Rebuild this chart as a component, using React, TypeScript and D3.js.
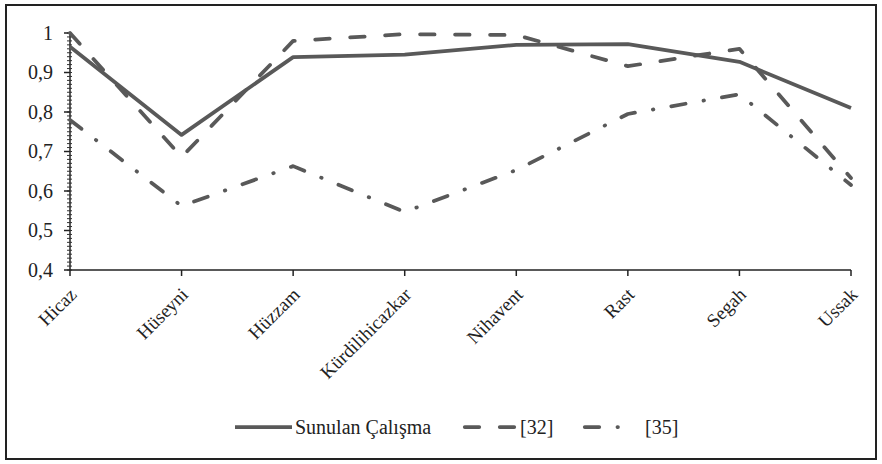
import React, { useEffect } from "react";
import * as d3 from "d3";

const categories = ["Hicaz", "Hüseyni", "Hüzzam", "Kürdilihicazkar", "Nihavent", "Rast", "Segah", "Ussak"];
const sunulan = [0.965, 0.742, 0.939, 0.945, 0.97, 0.972, 0.927, 0.81];
const ref32 = [1.0, 0.686, 0.98, 0.997, 0.995, 0.916, 0.96, 0.633];
const ref35 = [0.78, 0.562, 0.663, 0.547, 0.653, 0.795, 0.845, 0.615];
const yTicks = [0.4, 0.5, 0.6, 0.7, 0.8, 0.9, 1];
const seriesNames = ["Sunulan Çalışma", "[32]", "[35]"];

const W = 882;
const H = 464;
const margin = { left: 70, right: 31, top: 33, bottom: 194 };
const color = "#595959";
const font = "'Liberation Serif', 'Times New Roman', serif";

const dashes = [undefined, "14.5 20.5", "14.5 18.2 0.5 18.2"];

export default function App() {
  useEffect(() => {
    document.body.style.margin = "0";
  }, []);

  const x = d3
    .scalePoint<string>()
    .domain(categories)
    .range([margin.left, W - margin.right]);
  const y = d3
    .scaleLinear()
    .domain([0.4, 1])
    .range([H - margin.bottom, margin.top]);

  const line = d3
    .line<number>()
    .x((_, i) => x(categories[i]) as number)
    .y((d) => y(d));

  const series = [sunulan, ref32, ref35];
  const minor = d3.range(40, 101).map((v) => v / 100);

  const legendY = 427;
  const legendItems = [
    { x1: 235, x2: 292, tx: 295 },
    { x1: 464.75, x2: 515, tx: 520 },
    { x1: 584.75, x2: 619, tx: 645 },
  ];

  return (
    <div style={{ position: "absolute", left: 0, top: 0 }}>
      <svg width={W} height={H} style={{ display: "block", background: "#fff" }}>
        <rect x={6} y={5} width={870} height={454} fill="#fff" stroke="#222" strokeWidth={2} />
        {/* y axis */}
        <line x1={margin.left} x2={margin.left} y1={y(1)} y2={y(0.4)} stroke="#222" strokeWidth={1.5} />
        {minor.map((v, i) => (
          <line key={"m" + i} x1={margin.left - 3} x2={margin.left + 2} y1={y(v)} y2={y(v)} stroke="#333" strokeWidth={1} />
        ))}
        {yTicks.map((t) => (
          <g key={t}>
            <line x1={margin.left - 6} x2={margin.left} y1={y(t)} y2={y(t)} stroke="#222" strokeWidth={1.5} />
            <text
              x={margin.left - 17}
              y={y(t)}
              dy="0.33em"
              textAnchor="end"
              fontFamily={font}
              fontSize={20}
              fill="#222"
            >
              {String(t).replace(".", ",")}
            </text>
          </g>
        ))}
        {/* x axis */}
        <line x1={margin.left} x2={W - margin.right} y1={y(0.4)} y2={y(0.4)} stroke="#222" strokeWidth={1.5} />
        {categories.map((c) => (
          <g key={c}>
            <line x1={x(c)} x2={x(c)} y1={y(0.4)} y2={y(0.4) + 6} stroke="#222" strokeWidth={1.5} />
            <text
              transform={`translate(${(x(c) as number) + 3},${y(0.4) + 21}) rotate(-45)`}
              textAnchor="end"
              dy="0.35em"
              fontFamily={font}
              fontSize={19}
              fill="#222"
            >
              {c}
            </text>
          </g>
        ))}
        {/* series */}
        {series.map((s, i) => (
          <path
            key={i}
            d={line(s) as string}
            fill="none"
            stroke={color}
            strokeWidth={3.75}
            strokeDasharray={dashes[i]}
            strokeLinecap={i === 0 ? "butt" : "round"}
            strokeLinejoin="round"
          />
        ))}
        {/* legend */}
        {legendItems.map((it, i) => (
          <g key={i}>
            <line
              x1={it.x1}
              x2={it.x2}
              y1={legendY}
              y2={legendY}
              stroke={color}
              strokeWidth={3.75}
              strokeDasharray={dashes[i]}
              strokeLinecap={i === 0 ? "butt" : "round"}
            />
            <text
              x={it.tx}
              y={legendY}
              dy="0.35em"
              fontFamily={font}
              fontSize={20}
              fill="#222"
            >
              {seriesNames[i]}
            </text>
          </g>
        ))}
      </svg>
    </div>
  );
}
